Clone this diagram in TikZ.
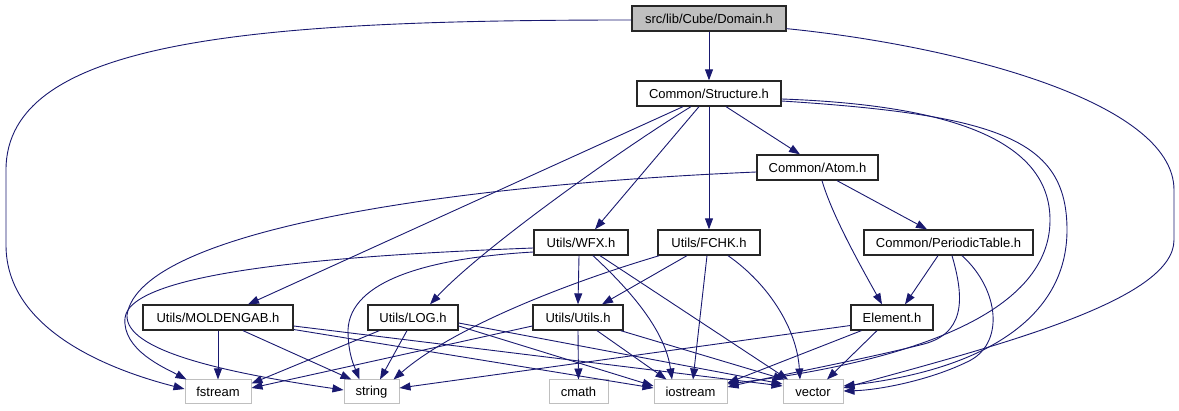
\documentclass[tikz,border=0pt]{standalone}
\usepackage{fontspec}
\setmainfont{Liberation Sans}
\usetikzlibrary{arrows.meta,calc}
\definecolor{navy}{HTML}{191970}
\definecolor{lgray}{HTML}{BFBFBF}
\tikzset{
  inc/.style={draw=black!85, line width=1.3pt, fill=white, minimum height=25pt, inner sep=0pt, font=\fontsize{13}{15}\selectfont},
  ext/.style={draw=lgray, line width=1pt, fill=white, minimum height=24pt, inner sep=0pt, font=\fontsize{13}{15}\selectfont},
  dep/.style={draw=navy, line width=0.9pt, -{Triangle[length=11pt,width=8pt]}}
}
\begin{document}
\begin{tikzpicture}[x=1pt,y=-1pt]
\useasboundingbox (0,0) rectangle (1179,411);
% nodes
\node[inc, fill=lgray, minimum width=154pt] (dom) at (709,18.5) {src/lib/Cube/Domain.h};
\node[inc, minimum width=144pt] (str) at (709,93.5) {Common/Structure.h};
\node[inc, minimum width=121pt] (atom) at (817.5,167.5) {Common/Atom.h};
\node[inc, minimum width=94pt] (wfx) at (581,242.5) {Utils/WFX.h};
\node[inc, minimum width=102pt] (fchk) at (709,242.5) {Utils/FCHK.h};
\node[inc, minimum width=169pt] (pt) at (948.5,242.5) {Common/PeriodicTable.h};
\node[inc, minimum width=150pt] (mold) at (218,317.5) {Utils/MOLDENGAB.h};
\node[inc, minimum width=90pt] (log) at (413,317.5) {Utils/LOG.h};
\node[inc, minimum width=90pt] (utils) at (578,317.5) {Utils/Utils.h};
\node[inc, minimum width=82pt] (elem) at (892,317.5) {Element.h};
\node[ext, minimum width=66pt] (fstream) at (218,392) {fstream};
\node[ext, minimum width=55pt] (string) at (371.5,392) {string};
\node[ext, minimum width=59pt] (cmath) at (578.5,392) {cmath};
\node[ext, minimum width=73pt] (iostream) at (690.5,392) {iostream};
\node[ext, minimum width=60pt] (vector) at (813,392) {vector};
% Domain
\draw[dep] (dom.south) -- (str.north);
\draw[dep] ($(dom.west)+(0,1.5)$) .. controls (250,20) and (6,40) .. (6,170) -- (6,245) .. controls (6,330) and (110,370) .. ($(fstream.west)+(0,-3)$);
\draw[dep] ($(dom.south east)+(0,-3)$) .. controls (950,45) and (1174,100) .. (1174,190) -- (1174,240) .. controls (1174,300) and (1000,345) .. ($(vector.east)+(0,-4)$);
% Structure
\draw[dep] ($(str.south)+(17,0)$) -- ($(atom.north)+(-17.5,0)$);
\draw[dep] ($(str.south)+(-10,0)$) -- ($(wfx.north)+(14,0)$);
\draw[dep] (str.south) -- (fchk.north);
\draw[dep] ($(str.south)+(-26,0)$) -- ($(mold.north)+(30,0)$);
\draw[dep] ($(str.south)+(-18,0)$) .. controls (620,150) and (480,250) .. ($(log.north)+(17,0)$);
\draw[dep] ($(str.east)+(0,5.5)$) .. controls (950,105) and (1050,140) .. (1050,220) .. controls (1050,310) and (920,360) .. ($(iostream.east)+(0,-8)$);
\draw[dep] ($(str.east)+(0,7.5)$) .. controls (1000,115) and (1067,140) .. (1067,230) .. controls (1067,320) and (980,370) .. ($(vector.east)+(0,-6)$);
% Atom
\draw[dep] ($(atom.south)+(19.5,0)$) -- ($(pt.north)+(-21.5,0)$);
\draw[dep] ($(atom.south)+(4.5,0)$) .. controls (832,215) and (860,265) .. ($(elem.north)+(-10,0)$);
\draw[dep] ($(atom.west)+(0,4.5)$) .. controls (450,185) and (140,230) .. (127,315) .. controls (125,350) and (220,372) .. ($(string.west)+(0,-2)$);
% WFX
\draw[dep] ($(wfx.west)+(0,5.5)$) .. controls (350,255) and (130,270) .. (125,318) .. controls (122,350) and (165,368) .. ($(fstream.north west)+(2,0)$);
\draw[dep] ($(wfx.west)+(0,9.5)$) .. controls (430,258) and (350,280) .. (348,330) .. controls (348,355) and (355,368) .. ($(string.north)+(-12,0)$);
\draw[dep] ($(wfx.south)+(-2,0)$) -- (utils.north);
\draw[dep] ($(wfx.south)+(12,0)$) .. controls (630,290) and (665,330) .. ($(iostream.north)+(-18.5,0)$);
\draw[dep] ($(wfx.south)+(19,0)$) -- ($(vector.north)+(-25,0)$);
% FCHK
\draw[dep] ($(fchk.south)+(-22,0)$) -- ($(utils.north)+(24,0)$);
\draw[dep] ($(fchk.south)+(-2,0)$) -- ($(iostream.north)+(2.5,0)$);
\draw[dep] ($(fchk.south)+(19,0)$) .. controls (770,285) and (797,330) .. ($(vector.north)+(-13,0)$);
\draw[dep] ($(fchk.south west)+(2,0)$) .. controls (560,285) and (450,330) .. ($(string.north east)+(-6,0)$);
% PeriodicTable
\draw[dep] ($(pt.south)+(-10.5,0)$) -- ($(elem.north)+(13,0)$);
\draw[dep] ($(pt.south)+(3.5,0)$) .. controls (965,300) and (965,335) .. (920,345) .. controls (860,360) and (780,375) .. ($(iostream.east)+(0,-5)$);
\draw[dep] ($(pt.south)+(13.5,0)$) .. controls (1000,290) and (1005,345) .. (967,362) .. controls (930,380) and (880,390) .. ($(vector.east)+(0,-1)$);
% Utils
\draw[dep] ($(utils.west)+(0,8.5)$) -- ($(fstream.east)+(0,-4)$);
\draw[dep] (utils.south) -- (cmath.north);
\draw[dep] ($(utils.south)+(19,0)$) -- ($(iostream.north)+(-24,0)$);
\draw[dep] ($(utils.south east)+(-3,0)$) -- ($(vector.north west)+(2,0)$);
% LOG
\draw[dep] ($(log.south west)+(12,0)$) -- ($(fstream.north east)+(0,4)$);
\draw[dep] ($(log.south)+(-6,0)$) -- ($(string.north)+(8.5,0)$);
\draw[dep] ($(log.east)+(0,8.5)$) -- ($(iostream.west)+(0,-6)$);
\draw[dep] ($(log.east)+(0,5.5)$) -- ($(vector.west)+(0,-8)$);
% MOLDENGAB
\draw[dep] (mold.south) -- (fstream.north);
\draw[dep] ($(mold.south)+(25,0)$) -- ($(string.north)+(-20,0)$);
\draw[dep] ($(mold.east)+(0,12)$) -- ($(iostream.west)+(0,-4)$);
\draw[dep] ($(mold.east)+(0,8.5)$) -- ($(vector.west)+(0,-6)$);
% Element
\draw[dep] ($(elem.west)+(0,8)$) -- ($(string.east)+(0,-4)$);
\draw[dep] ($(elem.south west)+(11,0)$) -- ($(iostream.east)+(0,-9)$);
\draw[dep] ($(elem.south)+(-15,0)$) -- ($(vector.north)+(14,0)$);
\end{tikzpicture}
\end{document}
